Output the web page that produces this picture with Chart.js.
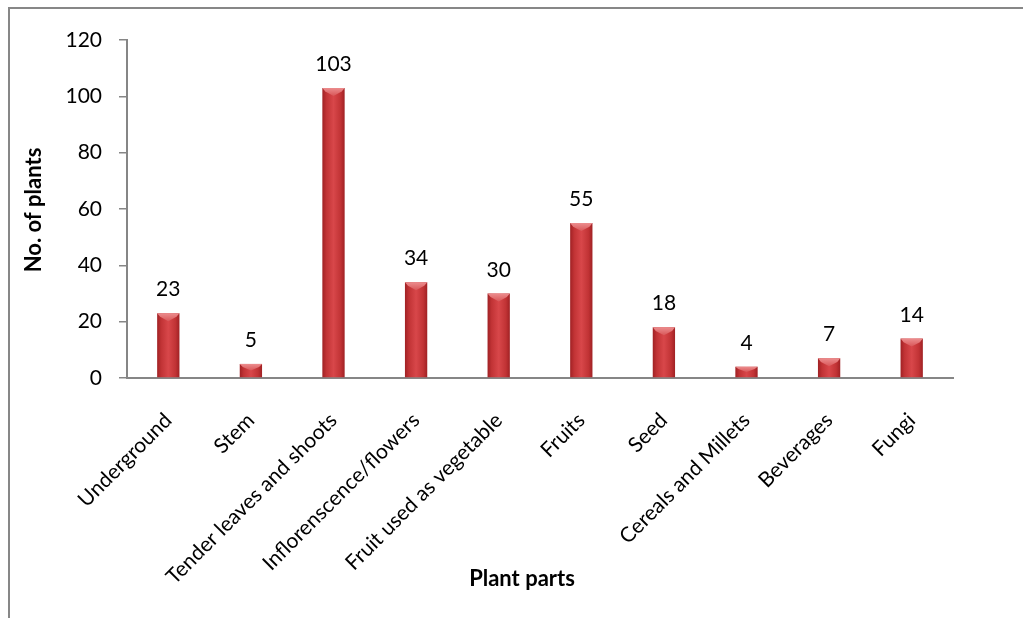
<!DOCTYPE html>
<html>
<head>
<meta charset="utf-8">
<script src="https://cdn.jsdelivr.net/npm/chart.js@4.4.1/dist/chart.umd.min.js"></script>
<style>
  html, body { margin: 0; padding: 0; background: #fff; }
  #wrap { position: relative; width: 1023px; height: 618px; }
</style>
</head>
<body>
<div id="wrap"><canvas id="c" width="1023" height="618"></canvas></div>
<script>
// Number of plants by part used
const categories = [
  'Underground', 'Stem', 'Tender leaves and shoots', 'Inflorenscence/flowers',
  'Fruit used as vegetable', 'Fruits', 'Seed', 'Cereals and Millets', 'Beverages', 'Fungi'
];
const plantCounts = [23, 5, 103, 34, 30, 55, 18, 4, 7, 14];
const yTicks = [0, 20, 40, 60, 80, 100, 120];
const xTitle = 'Plant parts';
const yTitle = 'No. of plants';

const FONT = 'Lato, "Open Sans", sans-serif';
const AXIS_GREY = '#868686';
const BAR_PCT = 0.27;

// Cylinder-like shading across each bar
function barFill(ctx) {
  const chart = ctx.chart;
  const xs = chart.scales && chart.scales.x;
  const fallback = '#C43A3C';
  if (!xs || ctx.dataIndex == null || !isFinite(xs.width) || xs.width <= 0) return fallback;
  const cx = xs.getPixelForValue(ctx.dataIndex);
  const w = (xs.width / categories.length) * BAR_PCT;
  if (!isFinite(cx) || !isFinite(w)) return fallback;
  const g = chart.ctx.createLinearGradient(cx - w / 2, 0, cx + w / 2, 0);
  g.addColorStop(0, '#A02124');
  g.addColorStop(0.18, '#C13335');
  g.addColorStop(0.5, '#D8474A');
  g.addColorStop(0.82, '#C13335');
  g.addColorStop(1, '#A02124');
  return g;
}

// Outer frame, bevelled bar tops, value labels and axis titles
const decorations = {
  id: 'decorations',
  beforeDraw(chart) {
    const c = chart.ctx;
    c.save();
    c.strokeStyle = '#878787';
    c.lineWidth = 2;
    c.beginPath();
    c.moveTo(9, chart.height);
    c.lineTo(9, 8);
    c.lineTo(chart.width, 8);
    c.stroke();
    c.restore();
  },
  afterDatasetsDraw(chart) {
    const c = chart.ctx;
    const meta = chart.getDatasetMeta(0);
    c.save();
    meta.data.forEach((bar, i) => {
      const half = bar.width / 2;
      const l = bar.x - half, r = bar.x + half, t = bar.y;
      const depth = Math.min(8, (bar.base - bar.y) / 2);
      const g = c.createLinearGradient(0, t, 0, t + depth);
      g.addColorStop(0, '#EC8D8E');
      g.addColorStop(1, '#D85658');
      c.fillStyle = g;
      c.beginPath();
      c.moveTo(l, t);
      c.lineTo(r, t);
      c.lineTo(r - 3, t + depth * 0.45);
      c.lineTo(bar.x, t + depth);
      c.lineTo(l + 3, t + depth * 0.45);
      c.closePath();
      c.fill();

      c.fillStyle = '#000';
      c.font = '21px ' + FONT;
      c.textAlign = 'center';
      c.textBaseline = 'alphabetic';
      c.fillText(String(plantCounts[i]), bar.x, t - 17);
    });

    c.fillStyle = '#000';
    c.font = 'bold 22px ' + FONT;
    c.textAlign = 'center';
    c.textBaseline = 'middle';
    c.fillText(xTitle, 522, 579);
    c.translate(34, 210);
    c.rotate(-Math.PI / 2);
    c.fillText(yTitle, 0, 0);
    c.restore();
  }
};

new Chart(document.getElementById('c'), {
  type: 'bar',
  data: {
    labels: categories,
    datasets: [{
      data: plantCounts,
      backgroundColor: barFill,
      borderWidth: 0,
      barPercentage: BAR_PCT,
      categoryPercentage: 1
    }]
  },
  options: {
    responsive: false,
    animation: false,
    devicePixelRatio: 1,
    layout: { padding: { left: 0, right: 70, top: 40, bottom: 0 } },
    plugins: { legend: { display: false }, tooltip: { enabled: false } },
    scales: {
      x: {
        grid: { display: false },
        border: { display: true, color: AXIS_GREY, width: 2 },
        ticks: {
          color: '#000',
          font: { family: FONT, size: 21 },
          minRotation: 45,
          maxRotation: 45,
          padding: 22,
          autoSkip: false
        },
        afterFit(s) { s.height = 240; }
      },
      y: {
        min: 0,
        max: 120,
        afterBuildTicks(s) { s.ticks = yTicks.map(v => ({ value: v })); },
        grid: { drawOnChartArea: false, drawTicks: true, tickLength: 8, color: AXIS_GREY, lineWidth: 1.5 },
        border: { display: true, color: AXIS_GREY, width: 2 },
        ticks: {
          color: '#000',
          font: { family: FONT, size: 21 },
          padding: 17
        },
        afterFit(s) { s.width = 127; }
      }
    }
  },
  plugins: [decorations]
});
</script>
</body>
</html>
